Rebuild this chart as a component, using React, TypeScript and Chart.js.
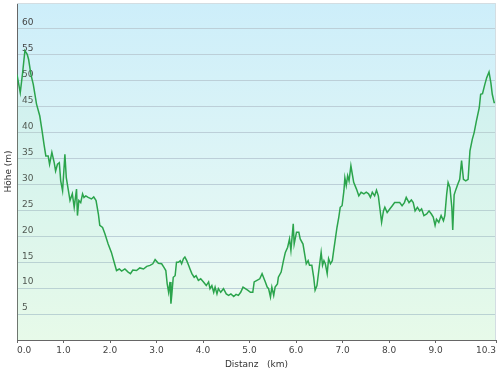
import React, { useEffect, useRef } from 'react';
import { Chart, registerables } from 'chart.js';

Chart.register(...registerables);

const distanceKm = [
  0.00, 0.07, 0.12, 0.17, 0.22, 0.25, 0.30, 0.35, 0.42, 0.49, 0.54, 0.58, 0.62, 0.67, 0.70, 0.75, 0.80, 0.83, 0.87, 0.91,
  0.94, 0.98, 1.03, 1.06, 1.10, 1.14, 1.19, 1.23, 1.28, 1.30, 1.33, 1.37, 1.41, 1.44, 1.48, 1.53, 1.60, 1.65, 1.70, 1.75,
  1.78, 1.84, 1.89, 1.96, 2.03, 2.08, 2.14, 2.20, 2.25, 2.32, 2.39, 2.44, 2.49, 2.57, 2.64, 2.72, 2.79, 2.86, 2.92, 2.97,
  3.04, 3.11, 3.16, 3.20, 3.23, 3.26, 3.29, 3.31, 3.33, 3.36, 3.40, 3.43, 3.47, 3.51, 3.54, 3.58, 3.61, 3.65, 3.69, 3.72,
  3.76, 3.81, 3.85, 3.90, 3.95, 4.01, 4.07, 4.12, 4.15, 4.19, 4.23, 4.26, 4.30, 4.33, 4.38, 4.44, 4.50, 4.55, 4.60, 4.66,
  4.71, 4.76, 4.81, 4.86, 4.91, 4.96, 5.02, 5.07, 5.10, 5.16, 5.22, 5.27, 5.30, 5.34, 5.38, 5.41, 5.45, 5.48, 5.52, 5.55,
  5.60, 5.62, 5.68, 5.73, 5.77, 5.82, 5.86, 5.89, 5.94, 5.96, 6.01, 6.06, 6.09, 6.15, 6.19, 6.22, 6.26, 6.29, 6.34, 6.38,
  6.41, 6.45, 6.49, 6.54, 6.57, 6.60, 6.63, 6.67, 6.70, 6.74, 6.78, 6.81, 6.85, 6.88, 6.92, 6.95, 6.99, 7.03, 7.05, 7.08,
  7.11, 7.14, 7.18, 7.21, 7.24, 7.30, 7.35, 7.40, 7.46, 7.51, 7.56, 7.60, 7.64, 7.69, 7.73, 7.77, 7.80, 7.84, 7.88, 7.91,
  7.96, 8.02, 8.07, 8.12, 8.18, 8.23, 8.28, 8.33, 8.37, 8.43, 8.48, 8.52, 8.56, 8.61, 8.66, 8.70, 8.75, 8.81, 8.86, 8.91,
  8.95, 8.99, 9.02, 9.07, 9.12, 9.17, 9.20, 9.24, 9.27, 9.31, 9.35, 9.37, 9.40, 9.44, 9.48, 9.52, 9.56, 9.60, 9.65, 9.70,
  9.74, 9.79, 9.83, 9.88, 9.94, 9.97, 10.01, 10.06, 10.10, 10.15, 10.19, 10.22, 10.26, 10.30,
];

const elevationM = [
  51.2, 47.7, 51.5, 55.8, 55.1, 54.1, 51.2, 49.3, 45.5, 43.2, 40.3, 37.8, 35.5, 35.5, 33.9, 36.2, 34.2, 32.6, 33.9, 34.2,
  30.7, 28.8, 35.8, 31.3, 29.1, 26.9, 28.2, 25.6, 29.1, 24.0, 26.9, 26.5, 28.2, 27.5, 27.8, 27.5, 27.2, 27.6, 26.9, 24.3,
  22.1, 21.7, 20.5, 18.5, 16.9, 15.3, 13.4, 13.7, 13.3, 13.7, 13.1, 12.8, 13.5, 13.4, 13.9, 13.7, 14.2, 14.4, 14.7, 15.5,
  14.8, 14.7, 14.0, 13.4, 10.8, 9.2, 11.2, 7.0, 8.9, 12.1, 12.4, 15.0, 15.0, 15.3, 14.7, 15.7, 16.0, 15.3, 14.4, 13.7,
  12.8, 12.1, 12.4, 11.5, 11.8, 11.2, 10.5, 11.2, 9.9, 10.5, 9.2, 10.2, 8.9, 9.9, 9.2, 9.9, 8.9, 8.6, 8.9, 8.4,
  8.8, 8.6, 9.2, 10.2, 9.9, 9.6, 9.2, 9.2, 11.2, 11.5, 11.8, 12.8, 12.1, 11.2, 10.2, 9.9, 8.3, 10.2, 8.6, 10.2,
  10.8, 12.1, 13.1, 15.3, 16.9, 17.9, 19.5, 17.3, 22.4, 18.5, 20.8, 20.8, 19.5, 18.5, 16.3, 14.7, 15.3, 14.4, 14.4, 12.1,
  9.6, 10.5, 13.4, 16.9, 14.4, 15.3, 14.7, 12.8, 15.7, 14.7, 15.3, 17.3, 19.8, 21.7, 23.7, 25.6, 25.9, 28.8, 31.3, 29.8,
  31.7, 30.7, 33.6, 32.0, 30.4, 29.1, 27.8, 28.5, 28.2, 28.5, 28.2, 27.5, 28.5, 27.8, 28.9, 27.8, 25.6, 22.7, 24.9, 25.6,
  24.6, 25.3, 25.9, 26.5, 26.5, 26.5, 25.9, 26.5, 27.5, 26.5, 27.0, 26.5, 24.9, 25.6, 24.9, 25.3, 24.0, 24.3, 24.9, 24.3,
  23.7, 22.1, 23.3, 22.7, 24.0, 23.0, 24.0, 28.2, 30.4, 29.4, 25.6, 21.2, 28.0, 29.1, 30.1, 31.0, 34.6, 31.0, 30.7, 31.0,
  36.5, 38.7, 40.0, 42.3, 44.8, 47.4, 47.5, 49.3, 50.6, 51.7, 49.6, 47.4, 45.8, 45.8,
];

const xTickValues = [0, 1, 2, 3, 4, 5, 6, 7, 8, 9, 10.3];
const yTickValues = [5, 10, 15, 20, 25, 30, 35, 40, 45, 50, 55, 60];

const FONT = 'DejaVu Sans, Verdana, sans-serif';

const backgroundPlugin = {
  id: 'plotBackground',
  beforeDraw(chart: any) {
    const { ctx, chartArea: a } = chart;
    const g = ctx.createLinearGradient(0, a.top, 0, a.bottom);
    g.addColorStop(0, '#cdeefa');
    g.addColorStop(1, '#effcf1');
    ctx.save();
    ctx.fillStyle = g;
    ctx.fillRect(a.left, a.top, a.right - a.left, a.bottom - a.top);
    ctx.restore();
  },
  afterDraw(chart: any) {
    const { ctx, chartArea: a } = chart;
    ctx.save();
    ctx.strokeStyle = '#d3dde2';
    ctx.lineWidth = 1;
    ctx.beginPath();
    ctx.moveTo(a.left, a.top + 0.5);
    ctx.lineTo(a.right - 0.5, a.top + 0.5);
    ctx.lineTo(a.right - 0.5, a.bottom);
    ctx.stroke();
    ctx.restore();
  },
};

export default function App() {
  const ref = useRef<HTMLCanvasElement | null>(null);

  useEffect(() => {
    if (!ref.current) return;
    const points = distanceKm.map((d, i) => ({ x: d, y: elevationM[i] }));
    const chart = new Chart(ref.current, {
      type: 'line',
      data: {
        datasets: [
          {
            data: points,
            borderColor: '#2ba44c',
            borderWidth: 1.5,
            backgroundColor: 'rgba(170, 240, 180, 0.12)',
            fill: 'origin',
            pointRadius: 0,
            tension: 0,
          },
        ],
      },
      options: {
        animation: false,
        responsive: false,
        layout: { padding: { top: 3, right: 4, left: 0, bottom: 0 } },
        plugins: {
          legend: { display: false },
          tooltip: { enabled: false },
        },
        scales: {
          x: {
            type: 'linear',
            min: 0,
            max: 10.3,
            afterBuildTicks: (s: any) => {
              s.ticks = xTickValues.map((v) => ({ value: v }));
            },
            afterFit: (s: any) => {
              s.height = 33;
              s.paddingLeft = 0;
              s.paddingRight = 0;
            },
            ticks: {
              align: 'inner',
              maxRotation: 0,
              autoSkip: false,
              padding: 2,
              color: '#444',
              font: { family: FONT, size: 9 },
              callback: (v: any) => Number(v).toFixed(1),
            },
            grid: {
              drawOnChartArea: false,
              drawTicks: true,
              tickLength: 3,
              color: '#666',
            },
            border: { display: true, color: '#666', width: 1 },
            title: {
              display: true,
              text: 'Distanz   (km)',
              color: '#333',
              font: { family: FONT, size: 9 },
              padding: { top: 0, bottom: 3 },
            },
          },
          y: {
            type: 'linear',
            min: 0,
            max: 65,
            afterBuildTicks: (s: any) => {
              s.ticks = yTickValues.map((v) => ({ value: v }));
            },
            afterFit: (s: any) => {
              s.width = 17;
              s.paddingTop = 0;
              s.paddingBottom = 0;
            },
            ticks: {
              mirror: true,
              padding: 5,
              labelOffset: -6,
              color: '#444',
              font: { family: FONT, size: 9 },
              callback: (v: any) => String(v),
            },
            grid: {
              drawTicks: false,
              color: '#bccfd8',
              lineWidth: 1,
            },
            border: { display: true, color: '#666', width: 1 },
            title: {
              display: true,
              text: 'Höhe (m)',
              color: '#333',
              font: { family: FONT, size: 9 },
              padding: { top: 3, bottom: 0 },
            },
          },
        },
      },
      plugins: [backgroundPlugin],
    } as any);
    return () => chart.destroy();
  }, []);

  return (
    <div style={{ position: 'absolute', left: 0, top: 0, width: 500, height: 373, background: '#fff' }}>
      <canvas ref={ref} width={500} height={373} style={{ display: 'block' }} />
    </div>
  );
}
